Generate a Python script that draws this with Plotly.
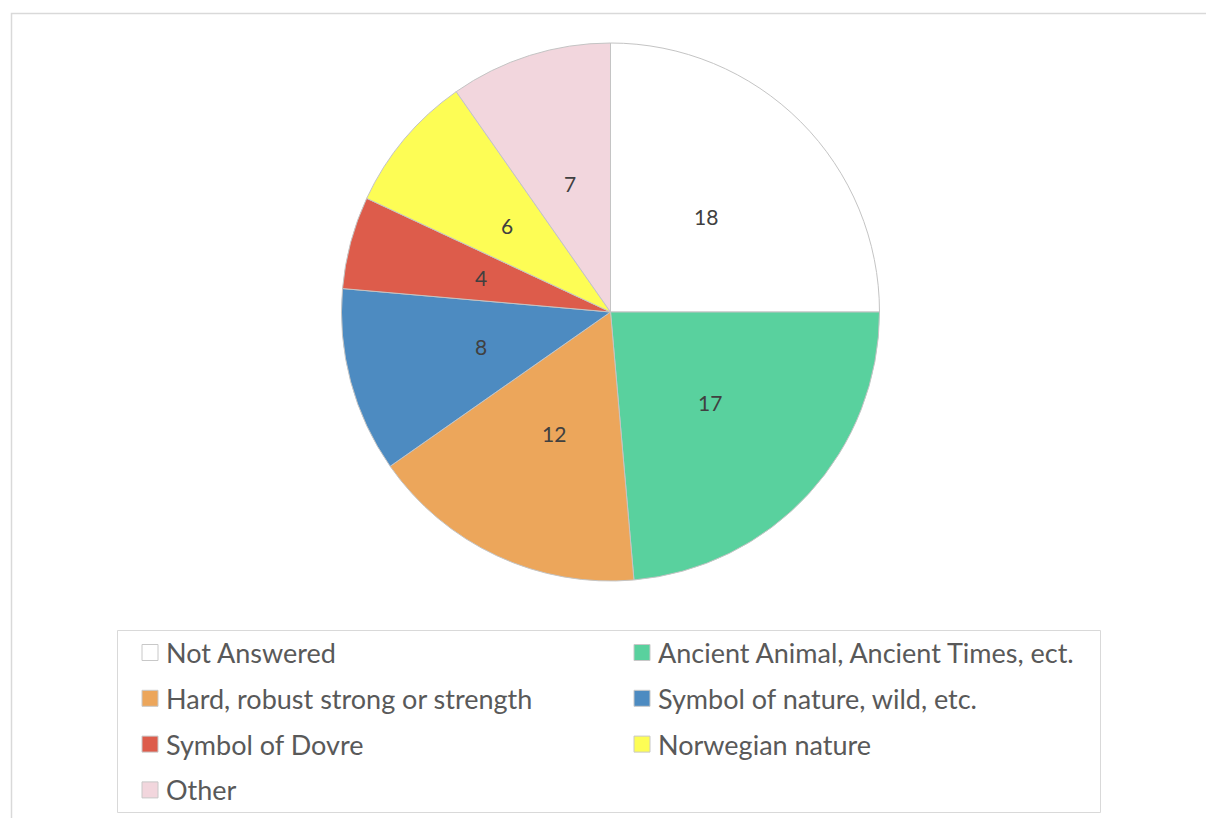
import numpy as np
import plotly.graph_objects as go

# Survey answers: what the animal symbolises
categories = [
    "Not Answered",
    "Ancient Animal, Ancient Times, ect.",
    "Hard, robust strong or strength",
    "Symbol of nature, wild, etc.",
    "Symbol of Dovre",
    "Norwegian nature",
    "Other",
]
counts = [18, 17, 12, 8, 4, 6, 7]
colors = ["#ffffff", "#59d19e", "#eca65b", "#4d8bc1", "#dd5c4b", "#fdfd55", "#f2d6dd"]

W, H = 1206, 818

def px(x):
    return x / W

def py(y):
    return 1 - y / H

# pie placement (pixels)
cx, cy, r = 610.5, 312.0, 269.0

fig = go.Figure(
    go.Pie(
        labels=categories,
        values=counts,
        sort=False,
        direction="clockwise",
        rotation=0,
        marker=dict(colors=colors, line=dict(color="#c4c4c4", width=1)),
        textinfo="none",
        hoverinfo="label+value",
        showlegend=False,
        domain=dict(x=[px(cx - r), px(cx + r)], y=[py(cy + r), py(cy - r)]),
    )
)

annotations = []
shapes = []

# value labels at half radius along each slice bisector
vals = np.array(counts, dtype=float)
ends = np.cumsum(vals)
mids = (ends - vals / 2) / vals.sum() * 2 * np.pi
for v, a in zip(counts, mids):
    lx = cx + 0.5 * r * np.sin(a)
    ly = cy - 0.5 * r * np.cos(a)
    annotations.append(dict(
        x=px(lx), y=py(ly), xref="paper", yref="paper",
        text=str(v), showarrow=False, xanchor="center", yanchor="middle",
        font=dict(family="Lato", size=21, color="#404040"),
    ))

# outer chart frame
shapes.append(dict(type="rect", xref="paper", yref="paper",
                   x0=px(11.5), x1=px(W + 20), y0=py(H + 20), y1=py(13.5),
                   line=dict(color="#d9d9d9", width=1.5), fillcolor="rgba(0,0,0,0)"))

# legend box
shapes.append(dict(type="rect", xref="paper", yref="paper",
                   x0=px(117.5), x1=px(1100.5), y0=py(812.5), y1=py(630.5),
                   line=dict(color="#d9d9d9", width=1), fillcolor="rgba(0,0,0,0)"))

col_x = [142, 634]
row_y0, row_step = 652.5, 45.8
sw = 16
for i, (name, col) in enumerate(zip(categories, colors)):
    row, c = divmod(i, 2)
    yc = row_y0 + row * row_step
    x0 = col_x[c]
    shapes.append(dict(type="rect", xref="paper", yref="paper",
                       x0=px(x0), x1=px(x0 + sw), y0=py(yc + sw / 2), y1=py(yc - sw / 2),
                       line=dict(color="#c8c8c8", width=1), fillcolor=col))
    annotations.append(dict(
        x=px(x0 + sw + 6), y=py(yc), xref="paper", yref="paper",
        text=name, showarrow=False, xanchor="left", yanchor="middle",
        font=dict(family="Lato", size=27, color="#595959"),
    ))

fig.update_layout(
    width=W, height=H,
    margin=dict(l=0, r=0, t=0, b=0),
    paper_bgcolor="#ffffff",
    plot_bgcolor="#ffffff",
    annotations=annotations,
    shapes=shapes,
)

fig.write_html("out.html")
